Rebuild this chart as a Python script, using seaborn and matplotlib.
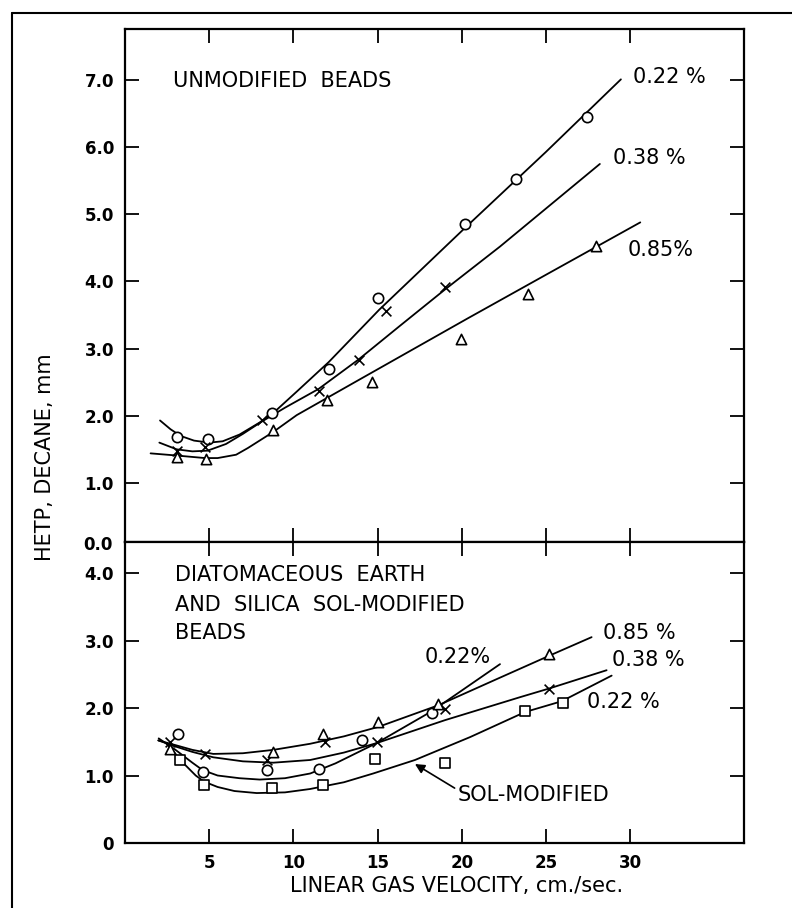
import matplotlib
matplotlib.use("Agg")
import matplotlib.pyplot as plt
from matplotlib.lines import Line2D
import seaborn as sns

# ---------------- data ----------------
# Top panel: unmodified beads
top_o_x = [3.1, 4.91, 8.71, 12.14, 15.04, 20.19, 23.22, 27.45]
top_o_y = [1.68, 1.65, 2.04, 2.69, 3.75, 4.85, 5.52, 6.45]
top_x_x = [3.07, 4.75, 8.12, 11.52, 13.88, 15.48, 19.0]
top_x_y = [1.48, 1.54, 1.94, 2.37, 2.83, 3.56, 3.92]
top_t_x = [3.1, 4.81, 8.81, 12.01, 14.69, 19.93, 23.91, 28.0]
top_t_y = [1.39, 1.35, 1.79, 2.23, 2.51, 3.15, 3.81, 4.53]

top_c022_x = [2.08, 2.7, 3.3, 4.1, 5.0, 5.8, 6.8, 8.0, 8.8, 10.2, 12.1, 15.1, 20.2, 25.0, 29.45]
top_c022_y = [1.93, 1.80, 1.70, 1.63, 1.60, 1.62, 1.72, 1.90, 2.04, 2.36, 2.80, 3.58, 4.80, 5.93, 7.01]
top_c038_x = [2.04, 3.07, 4.0, 4.9, 6.0, 7.0, 8.1, 9.5, 11.5, 13.88, 16.33, 19.0, 22.27, 28.2]
top_c038_y = [1.60, 1.50, 1.47, 1.48, 1.58, 1.73, 1.91, 2.12, 2.40, 2.84, 3.34, 3.88, 4.52, 5.75]
top_c085_x = [1.52, 2.97, 4.75, 5.5, 6.6, 7.3, 8.81, 10.2, 14.0, 20.35, 25.0, 30.6]
top_c085_y = [1.44, 1.41, 1.37, 1.37, 1.42, 1.52, 1.76, 2.01, 2.55, 3.45, 4.10, 4.88]

# Bottom panel: diatomaceous earth and silica sol-modified beads
bot_o_x = [3.17, 4.61, 8.41, 11.52, 14.09, 18.21]
bot_o_y = [1.62, 1.05, 1.08, 1.10, 1.53, 1.92]
bot_x_x = [2.67, 4.75, 8.41, 11.88, 14.94, 19.0, 25.2]
bot_x_y = [1.50, 1.32, 1.23, 1.50, 1.49, 1.99, 2.28]
bot_t_x = [2.67, 8.81, 11.78, 15.04, 18.6, 25.2]
bot_t_y = [1.40, 1.35, 1.62, 1.79, 2.06, 2.80]
bot_s_x = [3.27, 4.69, 8.71, 11.78, 14.85, 19.0, 23.75, 26.0]
bot_s_y = [1.23, 0.86, 0.81, 0.86, 1.24, 1.19, 1.95, 2.07]

bot_c085_x = [1.98, 3.0, 4.0, 5.24, 7.0, 8.81, 10.99, 13.0, 15.04, 18.6, 22.0, 25.24, 27.71]
bot_c085_y = [1.52, 1.45, 1.38, 1.32, 1.33, 1.38, 1.47, 1.58, 1.72, 2.04, 2.42, 2.78, 3.05]
bot_c038_x = [1.98, 3.0, 4.0, 5.24, 7.0, 8.8, 11.0, 13.0, 14.94, 19.0, 23.45, 25.2, 28.6]
bot_c038_y = [1.52, 1.43, 1.35, 1.27, 1.21, 1.19, 1.23, 1.34, 1.48, 1.82, 2.16, 2.29, 2.56]
bot_c022_x = [2.0, 3.0, 4.0, 4.61, 5.5, 6.8, 8.0, 9.5, 11.0, 12.5, 14.94, 18.2, 22.27]
bot_c022_y = [1.55, 1.38, 1.19, 1.08, 1.00, 0.96, 0.94, 0.96, 1.03, 1.18, 1.48, 1.95, 2.65]
bot_csol_x = [2.48, 3.0, 3.6, 4.2, 4.69, 5.5, 6.5, 7.82, 9.5, 10.99, 13.0, 14.74, 17.22, 20.5, 23.75, 25.93, 28.9]
bot_csol_y = [1.47, 1.32, 1.15, 1.00, 0.91, 0.83, 0.77, 0.74, 0.75, 0.80, 0.90, 1.03, 1.23, 1.57, 1.94, 2.10, 2.48]

x_ticks = [5, 10, 15, 20, 25, 30]
x_tick_labels = ["5", "10", "15", "20", "25", "30"]
top_y_ticks = [1, 2, 3, 4, 5, 6, 7]
top_y_labels = ["1.0", "2.0", "3.0", "4.0", "5.0", "6.0", "7.0"]
bot_y_ticks = [0, 1, 2, 3, 4]
bot_y_labels = ["0", "1.0", "2.0", "3.0", "4.0"]

# ---------------- figure ----------------
sns.set_style("ticks")
plt.rcParams["font.family"] = ["DejaVu Sans"]
plt.rcParams["text.color"] = "black"
plt.rcParams["axes.labelcolor"] = "black"
plt.rcParams["xtick.color"] = "black"
plt.rcParams["ytick.color"] = "black"
plt.rcParams["axes.edgecolor"] = "black"

W, H = 792, 908
fig = plt.figure(figsize=(W / 100, H / 100), dpi=100)

left = 125 / W
width = (744 - 125) / W
ax_top = fig.add_axes([left, 1 - 542 / H, width, (542 - 29) / H])
ax_bot = fig.add_axes([left, 1 - 843 / H, width, (843 - 542) / H])

LW = 1.3
TXT = dict(fontsize=15, color="black")


def curve(ax, xs, ys):
    sns.lineplot(x=xs, y=ys, ax=ax, color="black", linewidth=LW,
                 sort=False, estimator=None, zorder=2)


def pts(ax, xs, ys, marker, size=55):
    if marker == "x":
        sns.scatterplot(x=xs, y=ys, ax=ax, marker="x", color="black",
                        s=size * 0.9, linewidth=1.2, zorder=4)
    else:
        sns.scatterplot(x=xs, y=ys, ax=ax, marker=marker, facecolor="white",
                        edgecolor="black", s=size, linewidth=1.2, zorder=4)


# top panel
curve(ax_top, top_c022_x, top_c022_y)
curve(ax_top, top_c038_x, top_c038_y)
curve(ax_top, top_c085_x, top_c085_y)
pts(ax_top, top_o_x, top_o_y, "o")
pts(ax_top, top_x_x, top_x_y, "x")
pts(ax_top, top_t_x, top_t_y, "^")

# bottom panel
curve(ax_bot, bot_c085_x, bot_c085_y)
curve(ax_bot, bot_c038_x, bot_c038_y)
curve(ax_bot, bot_c022_x, bot_c022_y)
curve(ax_bot, bot_csol_x, bot_csol_y)
pts(ax_bot, bot_o_x, bot_o_y, "o")
pts(ax_bot, bot_x_x, bot_x_y, "x")
pts(ax_bot, bot_t_x, bot_t_y, "^")
pts(ax_bot, bot_s_x, bot_s_y, "s", size=45)

# axes limits / ticks
for ax in (ax_top, ax_bot):
    ax.set_xlim(0, 36.76)
    ax.set_xticks(x_ticks)
    ax.tick_params(direction="in", length=10, width=1.3, top=True, right=True,
                   labelsize=12, pad=8, colors="black")
    for sp in ax.spines.values():
        sp.set_visible(True)
        sp.set_linewidth(1.6)
        sp.set_color("black")
    ax.set_xlabel("")
    ax.set_ylabel("")

ax_top.set_ylim(0.12, 7.76)
ax_top.set_yticks(top_y_ticks)
ax_top.set_yticklabels(top_y_labels, fontweight="bold", fontsize=12, color="black")
ax_top.set_xticklabels([])

ax_bot.set_ylim(0, 4.46)
ax_bot.set_yticks(bot_y_ticks)
ax_bot.set_yticklabels(bot_y_labels, fontweight="bold", fontsize=12, color="black")
ax_bot.set_xticklabels(x_tick_labels, fontweight="bold", fontsize=12, color="black")

fig.text(113 / W, 1 - 545 / H, "0.0", ha="right", va="center",
         fontsize=12, fontweight="bold", color="black")

# annotations, top
ax_top.text(2.85, 6.99, "UNMODIFIED  BEADS", ha="left", va="center", **TXT)
ax_top.text(30.17, 7.04, "0.22 %", ha="left", va="center", **TXT)
ax_top.text(28.98, 5.84, "0.38 %", ha="left", va="center", **TXT)
ax_top.text(29.87, 4.47, "0.85%", ha="left", va="center", **TXT)

# annotations, bottom
ax_bot.text(2.97, 3.97, "DIATOMACEOUS  EARTH", ha="left", va="center", **TXT)
ax_bot.text(2.97, 3.53, "AND  SILICA  SOL-MODIFIED", ha="left", va="center", **TXT)
ax_bot.text(2.97, 3.11, "BEADS", ha="left", va="center", **TXT)
ax_bot.text(17.81, 2.76, "0.22%", ha="left", va="center", **TXT)
ax_bot.text(28.38, 3.11, "0.85 %", ha="left", va="center", **TXT)
ax_bot.text(28.92, 2.71, "0.38 %", ha="left", va="center", **TXT)
ax_bot.text(27.43, 2.09, "0.22 %", ha="left", va="center", **TXT)
ax_bot.annotate("SOL-MODIFIED", xy=(17.22, 1.17), xytext=(19.77, 0.71),
                ha="left", va="center", fontsize=15, color="black",
                arrowprops=dict(arrowstyle="-|>", color="black", lw=1.2,
                                mutation_scale=14, shrinkA=0, shrinkB=0,
                                relpos=(0.0, 0.75)))

# axis titles
fig.text(457 / W, 1 - 886 / H, "LINEAR GAS VELOCITY, cm./sec.",
         ha="center", va="center", fontsize=15, color="black")
fig.text(45 / W, 1 - 457 / H, "HETP, DECANE, mm", rotation=90,
         ha="center", va="center", fontsize=15, color="black")

# outer frame lines (top and left)
fig.add_artist(Line2D([12 / W, 1.0], [1 - 13 / H, 1 - 13 / H],
                      transform=fig.transFigure, color="black", lw=1.5))
fig.add_artist(Line2D([12 / W, 12 / W], [0.0, 1 - 13 / H],
                      transform=fig.transFigure, color="black", lw=1.5))

fig.savefig("out.png", dpi=100, facecolor="white")
